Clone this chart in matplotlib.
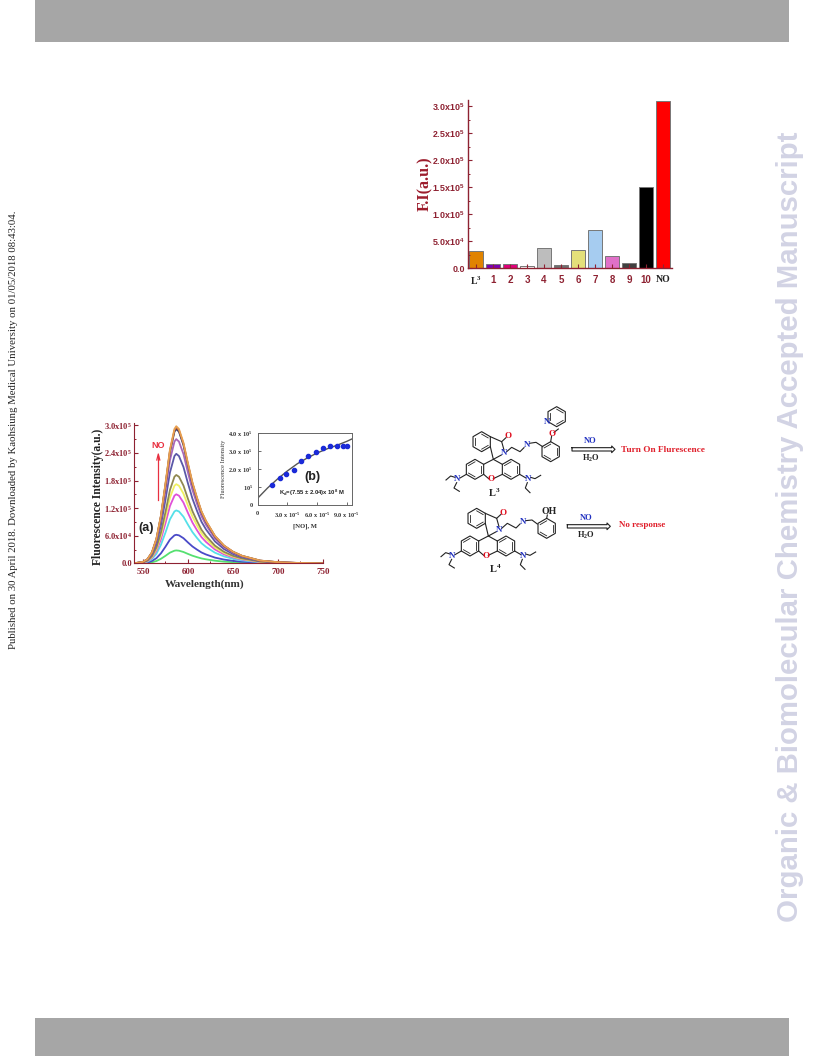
import numpy as np
import matplotlib
matplotlib.use('Agg')
import matplotlib.pyplot as plt
from matplotlib.patches import Polygon

plt.rcParams['mathtext.default'] = 'regular'
plt.rcParams['font.family'] = ['Liberation Sans', 'DejaVu Sans']

W, H = 816, 1056
RED = '#8e2232'

#### bar chart data
bar_names = ['L$^3$', '1', '2', '3', '4', '5', '6', '7', '8', '9', '10', 'NO']
bar_vals = [0.315, 0.087, 0.08, 0.04, 0.38, 0.07, 0.335, 0.71, 0.22, 0.09, 1.5, 3.11]
bar_cols = ['#e08300', '#7b00b0', '#e0007a', '#ffffff', '#bdbdbd', '#707070',
            '#e4e07a', '#a6ccf0', '#e070c8', '#404040', '#000000', '#ff0000']
bar_ticks = [0, 0.5, 1.0, 1.5, 2.0, 2.5, 3.0]
bar_ticklabels = ['0.0', '5.0x10$^4$', '1.0x10$^5$', '1.5x10$^5$', '2.0x10$^5$',
                  '2.5x10$^5$', '3.0x10$^5$']

#### spectra, units of 1e5
wl = [540, 550, 555, 560, 565, 570, 575, 580, 585, 587, 590, 595, 600, 605, 610, 615, 620, 630, 640, 650, 660, 680, 700, 720, 750]
sp1 = [0, .003, .008, .022, .05, .098, .162, .232, .274, .28, .274, .246, .204, .165, .134, .106, .087, .056, .036, .024, .015, .006, .002, .001, 0]
sp2 = [0, .006, .019, .05, .112, .217, .36, .515, .608, .62, .608, .546, .453, .366, .298, .236, .192, .124, .081, .053, .034, .012, .005, .002, 0]
sp3 = [0, .012, .035, .092, .207, .403, .667, .955, 1.127, 1.15, 1.127, 1.012, .84, .678, .552, .437, .357, .23, .15, .098, .063, .023, .009, .003, 0]
sp4 = [0, .015, .045, .12, .27, .525, .87, 1.245, 1.47, 1.5, 1.47, 1.32, 1.095, .885, .72, .57, .465, .3, .195, .128, .083, .03, .012, .005, 0]
sp5 = [0, .017, .052, .138, .31, .602, .998, 1.428, 1.686, 1.72, 1.686, 1.514, 1.256, 1.015, .826, .654, .533, .344, .224, .146, .095, .034, .014, .005, 0]
sp6 = [0, .019, .058, .154, .346, .672, 1.114, 1.594, 1.882, 1.92, 1.882, 1.69, 1.402, 1.133, .922, .73, .595, .384, .25, .163, .106, .038, .015, .006, 0]
sp7 = [0, .024, .071, .19, .428, .833, 1.38, 1.975, 2.332, 2.38, 2.332, 2.094, 1.737, 1.404, 1.142, .904, .738, .476, .309, .202, .131, .048, .019, .007, 0]
sp8 = [0, .027, .081, .216, .486, .945, 1.566, 2.241, 2.646, 2.7, 2.646, 2.376, 1.971, 1.593, 1.296, 1.026, .837, .54, .351, .23, .149, .054, .022, .008, 0]
sp9 = [0, .029, .088, .234, .526, 1.022, 1.694, 2.424, 2.862, 2.92, 2.862, 2.57, 2.132, 1.723, 1.402, 1.11, .905, .584, .38, .248, .161, .058, .023, .009, 0]
sp10 = [0, .03, .089, .236, .531, 1.03, 1.71, 2.45, 2.89, 2.95, 2.89, 2.6, 2.15, 1.741, 1.416, 1.121, .915, .59, .384, .25, .162, .059, .024, .009, 0]
sp11 = [0, .03, .089, .238, .536, 1.04, 1.73, 2.47, 2.92, 2.98, 2.92, 2.62, 2.175, 1.758, 1.43, 1.132, .924, .596, .387, .253, .164, .06, .024, .009, 0]
spectra = [sp1, sp2, sp3, sp4, sp5, sp6, sp7, sp8, sp9, sp10, sp11]
sp_cols = ['#55e070', '#4a4ac8', '#55e0e8', '#e050d8', '#f0f060', '#908850',
           '#5a58a8', '#a868b8', '#203070', '#b06040', '#e8a050']
sp_ticks = [0, 0.6, 1.2, 1.8, 2.4, 3.0]
sp_ticklabels = ['0.0', '6.0x10$^4$', '1.2x10$^5$', '1.8x10$^5$', '2.4x10$^5$', '3.0x10$^5$']

#### inset
no_conc = [1.48, 2.25, 2.9, 3.66, 4.4, 5.1, 5.9, 6.6, 7.3, 8.0, 8.6, 9.07]
no_int = [1.13, 1.5, 1.73, 1.93, 2.44, 2.75, 2.98, 3.16, 3.29, 3.31, 3.31, 3.31]
fit_x = [0, 1, 2, 3, 4, 5, 6, 7, 8, 9, 9.5]
fit_y = [0.38, 0.95, 1.45, 1.9, 2.3, 2.62, 2.9, 3.13, 3.33, 3.55, 3.68]


def px_axes(left, right, top, bottom):
    return fig.add_axes([left / W, 1 - bottom / H, (right - left) / W, (bottom - top) / H])


fig = plt.figure(figsize=(W / 100, H / 100), dpi=100)

# page overlay in pixel coords, on top of the chart axes
pg = fig.add_axes([0, 0, 1, 1])
pg.set_zorder(10)
pg.set_xlim(0, W)
pg.set_ylim(H, 0)
pg.axis('off')
pg.fill_between([35, 789], 0, 42, color='#a6a6a6', lw=0)
pg.fill_between([35, 789], 1018, 1056, color='#a6a6a6', lw=0)
pg.text(790, 527, 'Organic & Biomolecular Chemistry Accepted Manuscript', rotation=90,
        ha='center', va='center', fontsize=21.2, fontweight='bold', color='#d2d3e4')
pg.text(14, 429.5, 'Published on 30 April 2018. Downloaded by Kaohsiung Medical University on 01/05/2018 08:43:04.',
        rotation=90, ha='center', va='center', fontsize=7.75, family='Liberation Serif', color='#222222')


def hexagon(cx, cy, r=30, inner=()):
    ang = np.radians(np.arange(6) * 60 + 90)
    xs = cx + r * np.cos(ang)
    ys = cy + r * np.sin(ang)
    pts = list(zip(430 + xs / 3, 400 + ys / 3))
    pg.add_patch(Polygon(pts, closed=True, fill=False, ec='#222222', lw=0.8))
    for i in inner:
        j = (i + 1) % 6
        x0, y0 = cx + 0.75 * r * np.cos(ang[i]), cy + 0.75 * r * np.sin(ang[i])
        x1, y1 = cx + 0.75 * r * np.cos(ang[j]), cy + 0.75 * r * np.sin(ang[j])
        pg.plot([430 + x0 / 3, 430 + x1 / 3], [400 + y0 / 3, 400 + y1 / 3], color='#222222', lw=0.6)


def bonds(*pts, color='#222222'):
    xs = [430 + p[0] / 3 for p in pts]
    ys = [400 + p[1] / 3 for p in pts]
    pg.plot(xs, ys, color=color, lw=0.8)


def atom(x, y, s, color='#2030c0', size=6.5, weight='bold'):
    pg.text(430 + x / 3, 400 + y / 3, s, ha='center', va='center', fontsize=size,
            family='Liberation Serif', fontweight=weight, color=color)


def rhodamine(dx, dy):
    # shared core of L3 and L4, zoom-crop coordinates
    hexagon(155 + dx, 125 + dy, 30, inner=(1, 3, 5))
    bonds((181 + dx, 110 + dy), (215 + dx, 125 + dy), (222 + dx, 150 + dy))
    bonds((181 + dx, 140 + dy), (190 + dx, 178 + dy), (214 + dx, 165 + dy))
    bonds((215 + dx, 125 + dy), (228 + dx, 113 + dy))
    hexagon(135 + dx, 208 + dy, 30, inner=(0, 2, 4))
    hexagon(243 + dx, 208 + dy, 30, inner=(0, 2, 4))
    bonds((161 + dx, 193 + dy), (190 + dx, 178 + dy), (217 + dx, 193 + dy))
    bonds((161 + dx, 223 + dy), (176 + dx, 236 + dy))
    bonds((190 + dx, 236 + dy), (217 + dx, 223 + dy))
    bonds((109 + dx, 223 + dy), (90 + dx, 234 + dy))
    bonds((269 + dx, 223 + dy), (288 + dx, 234 + dy))
    bonds((75 + dx, 232 + dy), (62 + dx, 228 + dy), (48 + dx, 240 + dy))
    bonds((80 + dx, 248 + dy), (72 + dx, 264 + dy), (88 + dx, 274 + dy))
    bonds((302 + dx, 232 + dy), (315 + dx, 236 + dy), (332 + dx, 226 + dy))
    bonds((292 + dx, 248 + dy), (286 + dx, 264 + dy), (300 + dx, 278 + dy))
    atom(233 + dx, 108 + dy, 'O', '#e01020')
    atom(222 + dx, 160 + dy, 'N')
    atom(183 + dx, 238 + dy, 'O', '#e01020')
    atom(82 + dx, 238 + dy, 'N')
    atom(295 + dx, 238 + dy, 'N')


def open_arrow(x0, x1, y):
    bonds((x0, y - 5), (x1 - 10, y - 5), (x1 - 10, y - 10), (x1, y), (x1 - 10, y + 10), (x1 - 10, y + 5), (x0, y + 5), (x0, y - 5))


# L3
rhodamine(0, 0)
bonds((230, 155), (245, 142), (270, 155), (282, 143))
bonds((298, 130), (318, 127), (338, 140))
hexagon(362, 155, 30, inner=(0, 2, 4))
bonds((362, 125), (365, 108))
bonds((372, 97), (385, 87))
hexagon(380, 50, 30, inner=(1, 3, 5))
atom(290, 136, 'N')
atom(365, 102, 'O', '#e01020')
atom(352, 67, 'N')
atom(192, 278, 'L$^3$', '#222222', 7.5)
open_arrow(426, 555, 148)
atom(480, 123, 'NO', size=6)
atom(482, 174, 'H$_2$O', '#222222', 6)
pg.text(430 + 699 / 3, 400 + 150 / 3, 'Turn On Flurescence', ha='center', va='center', fontsize=6.7,
        family='Liberation Serif', fontweight='bold', color='#e0202c')

# L4
rhodamine(-15, 230)
bonds((215, 385), (232, 370), (258, 384), (270, 372))
bonds((287, 362), (306, 360), (322, 372))
hexagon(350, 385, 30, inner=(0, 2, 4))
bonds((350, 355), (352, 345))
atom(278, 367, 'N')
atom(358, 335, 'OH', '#222222', 7)
atom(196, 505, 'L$^4$', '#222222', 7.5)
open_arrow(412, 541, 379)
atom(467, 354, 'NO', size=6)
atom(468, 405, 'H$_2$O', '#222222', 6)
pg.text(430 + 637 / 3, 400 + 376 / 3, 'No response', ha='center', va='center', fontsize=6.5,
        family='Liberation Serif', fontweight='bold', color='#e0202c')

#### bar chart
ax = px_axes(467.7, 671.7, 100, 268.3)
ax.bar(range(12), bar_vals, width=0.8, color=bar_cols, edgecolor='#777777', linewidth=0.7)
ax.set_xlim(-0.49, 11.5)
ax.set_ylim(0, 3.12)
ax.spines['top'].set_visible(False)
ax.spines['right'].set_visible(False)
for s in ['left', 'bottom']:
    ax.spines[s].set_color(RED)
    ax.spines[s].set_linewidth(1.0)
ax.set_xticks(range(12))
ax.set_xticklabels(bar_names, fontsize=7, fontweight='bold', family='Liberation Sans', color=RED)
for lab in ax.get_xticklabels()[:1] + ax.get_xticklabels()[-1:]:
    lab.set_color('#222222')
    lab.set_family('Liberation Serif')
ax.set_yticks(bar_ticks)
ax.set_yticklabels(bar_ticklabels, fontsize=6.4, fontweight='bold', color=RED)
ax.set_yticks([0.25, 0.75, 1.25, 1.75, 2.25, 2.75], minor=True)
ax.tick_params(axis='x', which='major', direction='in', length=3, width=0.8, color=RED, pad=4.5)
ax.tick_params(axis='y', which='major', direction='in', length=3, width=0.8, color=RED, pad=2)
ax.tick_params(axis='y', which='minor', direction='in', length=1.5, width=0.7, color=RED)
ax.set_ylabel('F.I(a.u.)', fontsize=11.5, fontweight='bold', family='Liberation Serif', color='#9c1c2c')
ax.yaxis.set_label_coords(-0.17, 0.5)

#### spectra
ax2 = px_axes(134.3, 323, 423, 563.3)
for y, c in zip(spectra, sp_cols):
    ax2.plot(wl, y, color=c, lw=1.3)
ax2.set_xlim(540.4, 750)
ax2.set_ylim(0, 3.05)
ax2.spines['top'].set_visible(False)
ax2.spines['right'].set_visible(False)
for s in ['left', 'bottom']:
    ax2.spines[s].set_color(RED)
ax2.set_xticks([550, 600, 650, 700, 750])
ax2.set_xticks([575, 625, 675, 725], minor=True)
ax2.set_yticks(sp_ticks)
ax2.set_yticklabels(sp_ticklabels, fontsize=6, fontweight='bold', family='Liberation Serif', color=RED)
ax2.set_yticks([0.3, 0.9, 1.5, 2.1, 2.7], minor=True)
for lab in ax2.get_xticklabels():
    lab.set_fontsize(6.5)
    lab.set_fontweight('bold')
    lab.set_family('Liberation Serif')
    lab.set_color(RED)
ax2.tick_params(axis='x', which='major', direction='in', length=3, width=0.8, color=RED, pad=3.5)
ax2.tick_params(axis='y', which='major', direction='in', length=3, width=0.8, color=RED, pad=1.5)
ax2.tick_params(axis='both', which='minor', direction='in', length=1.5, width=0.7, color=RED)
ax2.set_xlabel('Wavelength(nm)', fontsize=8.1, fontweight='bold', family='Liberation Serif', color='#333333')
ax2.xaxis.set_label_coords(0.375, -0.115)
ax2.set_ylabel('Fluorescence Intensity(a.u.)', fontsize=8.4, fontweight='bold', family='Liberation Serif', color='#222222')
ax2.yaxis.set_label_coords(-0.16, 0.47)
pg.text(145.7, 527.5, '(a)', fontsize=9, fontweight='bold', color='#222222', ha='center', va='center')
pg.text(157.7, 445, 'NO', fontsize=6.5, fontweight='bold', color='#e83040', ha='center', va='center')
pg.plot([158.3, 158.3], [500, 456], color='#e83040', lw=0.9)
pg.plot([156.8, 158.3, 159.8], [460, 454, 460], color='#e83040', lw=0.9)

#### inset
ax3 = px_axes(257.7, 351.7, 433.3, 505)
ax3.plot(fit_x, fit_y, color='#555555', lw=1.0)
ax3.plot(no_conc, no_int, 'o', color='#1a2ad8', ms=3.0, ls='none')
ax3.set_xlim(0, 9.5)
ax3.set_ylim(0, 4.0)
ax3.set_xticks([0, 3, 6, 9])
ax3.set_xticklabels(['0', '3.0 x 10$^{-5}$', '6.0 x 10$^{-5}$', '9.0 x 10$^{-5}$'], fontsize=4.5,
                    fontweight='bold', family='Liberation Serif', color='#333333')
ax3.set_yticks([0, 1, 2, 3, 4])
ax3.set_yticklabels(['0', '10$^5$', '2.0 x 10$^5$', '3.0 x 10$^5$', '4.0 x 10$^5$'], fontsize=4.5,
                    fontweight='bold', family='Liberation Serif', color='#333333')
ax3.tick_params(axis='x', which='major', direction='in', length=2, width=0.6, pad=4, color='#555555')
ax3.tick_params(axis='y', which='major', direction='in', length=2, width=0.6, pad=3.5, color='#555555')
for s in ax3.spines.values():
    s.set_linewidth(0.7)
    s.set_color('#666666')
ax3.set_xlabel('[NO], M', fontsize=4.8, fontweight='bold', family='Liberation Serif', color='#333333', labelpad=2.5)
ax3.set_ylabel('Fluorescence Intensity', fontsize=4.6, family='Liberation Serif', color='#333333', labelpad=1.5)
ax3.text(5.55, 1.55, '(b)', fontsize=9, fontweight='bold', color='#222222', ha='center', va='center')
ax3.text(2.2, 0.66, 'K$_d$=(7.55 ± 2.04)x 10$^8$ M', fontsize=4.2, fontweight='bold', color='#222222', ha='left', va='center')

fig.savefig('out.png', dpi=100)
